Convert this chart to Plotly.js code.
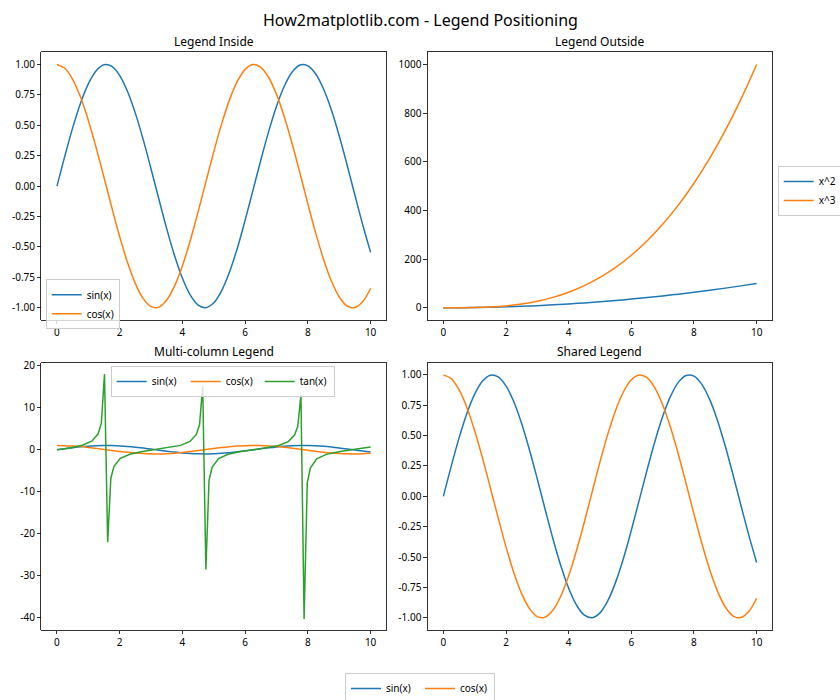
<!DOCTYPE html>
<html>
<head>
<meta charset="utf-8">
<script src="https://cdn.plot.ly/plotly-3.0.1.min.js"></script>
<style>html,body{margin:0;padding:0;background:#fff;}#chart{width:840px;height:700px;}</style>
</head>
<body>
<div id="chart"></div>
<script>
// ---- data ----
const xTrig = [0,0.25,0.5,0.75,1,1.25,1.5,1.75,2,2.25,2.5,2.75,3,3.25,3.5,3.75,4,4.25,4.5,4.75,5,5.25,5.5,5.75,6,6.25,6.5,6.75,7,7.25,7.5,7.75,8,8.25,8.5,8.75,9,9.25,9.5,9.75,10];
const sinVals = [0,0.247,0.479,0.682,0.841,0.949,0.997,0.984,0.909,0.778,0.598,0.382,0.141,-0.108,-0.351,-0.572,-0.757,-0.895,-0.978,-0.999,-0.959,-0.859,-0.706,-0.510,-0.279,-0.033,0.215,0.450,0.657,0.823,0.938,0.995,0.989,0.922,0.798,0.625,0.412,0.174,-0.075,-0.319,-0.544];
const cosVals = [1,0.969,0.878,0.732,0.540,0.315,0.071,-0.178,-0.416,-0.628,-0.801,-0.924,-0.990,-0.994,-0.936,-0.820,-0.654,-0.446,-0.211,0.037,0.284,0.512,0.709,0.861,0.960,0.999,0.977,0.893,0.754,0.568,0.347,0.104,-0.146,-0.386,-0.602,-0.780,-0.911,-0.985,-0.997,-0.948,-0.839];

const xPow = [0,0.5,1,1.5,2,2.5,3,3.5,4,4.5,5,5.5,6,6.5,7,7.5,8,8.5,9,9.5,10];
const sqVals = [0,0.25,1,2.25,4,6.25,9,12.25,16,20.25,25,30.25,36,42.25,49,56.25,64,72.25,81,90.25,100];
const cubeVals = [0,0.125,1,3.375,8,15.625,27,42.875,64,91.125,125,166.375,216,274.625,343,421.875,512,614.125,729,857.375,1000];

const xTan = [0,0.404,0.808,1.111,1.313,1.414,1.515,1.616,1.717,1.818,2.020,2.323,2.727,3.131,3.535,3.939,4.242,4.444,4.545,4.646,4.747,4.848,4.949,5.152,5.455,5.859,6.263,6.667,7.071,7.374,7.576,7.677,7.778,7.879,7.980,8.081,8.283,8.586,8.990,9.394,9.798,10];
const tanVals = [0,0.428,1.046,2.017,3.79,6.33,17.97,-22.0,-6.78,-3.96,-2.07,-1.07,-0.440,-0.011,0.415,1.025,1.97,3.64,5.94,15.15,-28.5,-7.31,-4.14,-2.13,-1.09,-0.452,-0.020,0.404,1.006,1.917,3.50,5.58,13.1,-40.3,-7.90,-4.33,-2.185,-1.11,-0.464,-0.031,0.392,0.648];

const titles = ["Legend Inside","Legend Outside","Multi-column Legend","Shared Legend"];
const suptitle = "How2matplotlib.com - Legend Positioning";

const xTickVals = [0,2,4,6,8,10];
const xTickText = ["0","2","4","6","8","10"];
const trigTickVals = [-1,-0.75,-0.5,-0.25,0,0.25,0.5,0.75,1];
const trigTickText = ["-1.00","-0.75","-0.50","-0.25","0.00","0.25","0.50","0.75","1.00"];
const powTickVals = [0,200,400,600,800,1000];
const powTickText = ["0","200","400","600","800","1000"];
const tanTickVals = [-40,-30,-20,-10,0,10,20];
const tanTickText = ["-40","-30","-20","-10","0","10","20"];

// ---- styles ----
const C1 = "#1f77b4", C2 = "#ff7f0e", C3 = "#2ca02c";
const FONT = "Noto Sans, Open Sans, DejaVu Sans, sans-serif";
const LW = 1.5;

function tr(x, y, name, color, xa, ya, legend, shape) {
  return {x: x, y: y, name: name, type: "scatter", mode: "lines",
    line: {color: color, width: LW, shape: shape || "spline", smoothing: 1},
    xaxis: xa, yaxis: ya, legend: legend, hoverinfo: "skip"};
}

const data = [
  tr(xTrig, sinVals, "sin(x)", C1, "x", "y", "legend"),
  tr(xTrig, cosVals, "cos(x)", C2, "x", "y", "legend"),
  tr(xPow, sqVals, "x^2", C1, "x2", "y2", "legend2"),
  tr(xPow, cubeVals, "x^3", C2, "x2", "y2", "legend2"),
  tr(xTrig, sinVals, "sin(x)", C1, "x3", "y3", "legend3"),
  tr(xTrig, cosVals, "cos(x)", C2, "x3", "y3", "legend3"),
  tr(xTan, tanVals, "tan(x)", C3, "x3", "y3", "legend3", "linear"),
  tr(xTrig, sinVals, "sin(x)", C1, "x4", "y4", "legend4"),
  tr(xTrig, cosVals, "cos(x)", C2, "x4", "y4", "legend4")
];

const W = 840, H = 700;
const colL = [41.3/W, 386.3/W], colR = [427.7/W, 772.3/W];
const rowT = [1-320/H, 1-52.3/H], rowB = [1-630/H, 1-362.7/H];

function ax(domain, anchor, range, tv, tt) {
  return {domain: domain, anchor: anchor, range: range, tickvals: tv, ticktext: tt,
    showgrid: false, zeroline: false, showline: true, mirror: true,
    linecolor: "#000", linewidth: 0.8, ticks: "outside", ticklen: 3.5, tickwidth: 0.8,
    tickcolor: "#000", tickfont: {family: FONT, size: 10, color: "#000"}, fixedrange: true,
    automargin: false};
}

const legStyle = {bgcolor: "rgba(255,255,255,0.8)", bordercolor: "#cccccc", borderwidth: 1,
  font: {family: FONT, size: 10, color: "#000"}, xref: "container", yref: "container"};

function ann(text, xc, ybotPx, size) {
  return {text: text, x: xc, y: 1 - ybotPx/H, xref: "paper", yref: "paper",
    xanchor: "center", yanchor: "bottom", showarrow: false,
    font: {family: FONT, size: size, color: "#000"}};
}

const layout = {
  width: W, height: H, margin: {l: 0, r: 0, t: 0, b: 0, autoexpand: false},
  paper_bgcolor: "#fff", plot_bgcolor: "#fff", showlegend: true,
  xaxis: ax(colL, "y", [-0.5, 10.5], xTickVals, xTickText),
  yaxis: ax(rowT, "x", [-1.1, 1.1], trigTickVals, trigTickText),
  xaxis2: ax(colR, "y2", [-0.5, 10.5], xTickVals, xTickText),
  yaxis2: ax(rowT, "x2", [-50, 1050], powTickVals, powTickText),
  xaxis3: ax(colL, "y3", [-0.5, 10.5], xTickVals, xTickText),
  yaxis3: ax(rowB, "x3", [-42.9, 20.7], tanTickVals, tanTickText),
  xaxis4: ax(colR, "y4", [-0.5, 10.5], xTickVals, xTickText),
  yaxis4: ax(rowB, "x4", [-1.1, 1.1], trigTickVals, trigTickText),
  legend: Object.assign({}, legStyle, {x: 45.7/W, y: 1-279.3/H, xanchor: "left", yanchor: "top"}),
  legend2: Object.assign({}, legStyle, {x: 777.7/W, y: 1-166/H, xanchor: "left", yanchor: "top"}),
  legend3: Object.assign({}, legStyle, {orientation: "h", entrywidth: 29, x: 110.7/W, y: 1-366/H, xanchor: "left", yanchor: "top"}),
  legend4: Object.assign({}, legStyle, {orientation: "h", entrywidth: 29, x: 0.5, y: 1-673/H, xanchor: "center", yanchor: "top"}),
  annotations: [
    ann(suptitle, 0.5, 33, 16),
    ann(titles[0], (colL[0]+colL[1])/2, 52, 12),
    ann(titles[1], (colR[0]+colR[1])/2, 52, 12),
    ann(titles[2], (colL[0]+colL[1])/2, 362.4, 12),
    ann(titles[3], (colR[0]+colR[1])/2, 362.4, 12)
  ]
};

Plotly.newPlot("chart", data, layout, {displayModeBar: false, staticPlot: true});
</script>
</body>
</html>
